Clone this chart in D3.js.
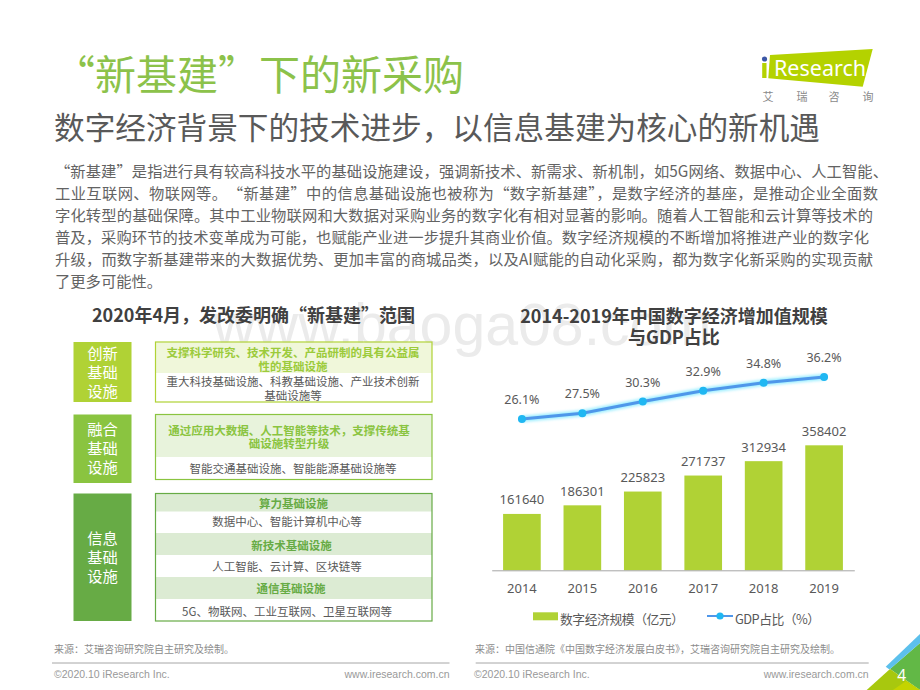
<!DOCTYPE html>
<html><head><meta charset="utf-8">
<script src="https://cdn.jsdelivr.net/npm/d3@7/dist/d3.min.js"></script>
<style>html,body{margin:0;padding:0;background:#fff}svg{display:block}
text{font-family:"Noto Sans CJK SC","Noto Sans",sans-serif}
.num{font-family:"Noto Sans","Noto Sans CJK SC",sans-serif}
.en{font-family:"Liberation Sans",Arial,sans-serif}
</style></head><body>
<svg id="c" width="920" height="690" viewBox="0 0 920 690"></svg>
<script>
const years = ["2014","2015","2016","2017","2018","2019"];
const scaleValues = [161640,186301,225823,271737,312934,358402];
const gdpShare = [26.1,27.5,30.3,32.9,34.8,36.2];
const legendLabels = ["数字经济规模（亿元）","GDP占比（%）"];
const bodyLines = [
 "“新基建”是指进行具有较高科技水平的基础设施建设，强调新技术、新需求、新机制，如5G网络、数据中心、人工智能、",
 "工业互联网、物联网等。　“新基建”中的信息基础设施也被称为“数字新基建”，是数字经济的基座，是推动企业全面数",
 "字化转型的基础保障。其中工业物联网和大数据对采购业务的数字化有相对显著的影响。随着人工智能和云计算等技术的",
 "普及，采购环节的技术变革成为可能，也赋能产业进一步提升其商业价值。数字经济规模的不断增加将推进产业的数字化",
 "升级，而数字新基建带来的大数据优势、更加丰富的商城品类，以及AI赋能的自动化采购，都为数字化新采购的实现贡献",
 "了更多可能性。"];
const bodyWidths = [833,823,818,814,818,null];
const categoryNames = [["创新","基础","设施"],["融合","基础","设施"],["信息","基础","设施"]];
const svg = d3.select("#c");
const T=(x,y,s,size,fill,o={})=>svg.append("text").attr("x",x).attr("y",y).attr("font-size",size).attr("fill",fill)
  .attr("text-anchor",o.a||"start").attr("font-weight",o.w||400).attr("class",o.c||null).text(s);

// watermark
T(213,345,"www.baoga08.com",59,"#ebebeb",{c:"en"});

// headings
T(54,90,"“新基建”下的新采购",41,"#8cc24a");
T(54,139,"数字经济背景下的技术进步，以信息基建为核心的新机遇",30.65,"#595959");

// logo
svg.append("polygon").attr("points","770,55 872.7,49 862.7,86.7 768.3,78.3").attr("fill","#b4d200");
svg.append("rect").attr("x",762.2).attr("y",63).attr("width",4.3).attr("height",15).attr("fill","#b4d200");
svg.append("circle").attr("cx",764.5).attr("cy",59).attr("r",2.6).attr("fill","#3b57a6");
T(774,76,"Research",21.5,"#fff",{c:"num"});
["艾","瑞","咨","询"].forEach((c,i)=>T([768,802,834,868][i],101,c,11,"#8a8a8a",{a:"middle"}));

// paragraph
bodyLines.forEach((l,i)=>{const t=T(55,177+i*22,l,15.3,"#636363"); if(bodyWidths[i]) t.attr("textLength",bodyWidths[i]);});

// left diagram
T(253.5,322,"2020年4月，发改委明确“新基建”范围",18,"#404040",{a:"middle",w:700});
const leftBoxes=[
 {y0:342,y1:402,fill:"#b0d235",stroke:"#b0d235",head:"#f0f7da",ink:"#9ccb3b",rows:[
   {y0:342.5,y1:373,h:1,t:["支撑科学研究、技术开发、产品研制的具有公益属","性的基础设施"],ty:[357,370.5],cx:293},
   {y0:373,y1:402,h:0,t:["重大科技基础设施、科教基础设施、产业技术创新","基础设施等"],ty:[385.5,400],cx:293}]},
 {y0:414.5,y1:483,fill:"#8ac440",stroke:"#8ac440",head:"#e8f3dc",ink:"#8ac440",rows:[
   {y0:414.5,y1:457,h:1,t:["通过应用大数据、人工智能等技术，支撑传统基","础设施转型升级"],ty:[434.5,447.5],cx:289},
   {y0:457,y1:479.5,h:0,t:["智能交通基础设施、智能能源基础设施等"],ty:[472.5],cx:293}]},
 {y0:493.5,y1:621,fill:"#67ab45",stroke:"#67ab45",head:"#dcebd3",ink:"#67ab45",rows:[
   {y0:493.5,y1:511.7,h:1,t:["算力基础设施"],ty:[507.5],cx:293.5},
   {y0:511.7,y1:533,h:0,t:["数据中心、智能计算机中心等"],ty:[526],cx:287},
   {y0:533,y1:555,h:1,t:["新技术基础设施"],ty:[550],cx:291.5},
   {y0:555,y1:577,h:0,t:["人工智能、云计算、区块链等"],ty:[571],cx:287},
   {y0:577,y1:599,h:1,t:["通信基础设施"],ty:[592.5],cx:291},
   {y0:599,y1:621,h:0,t:["5G、物联网、工业互联网、卫星互联网等"],ty:[615.5],cx:287}]}
];
leftBoxes.forEach((b,i)=>{
  svg.append("rect").attr("x",73.5).attr("y",b.y0).attr("width",58).attr("height",b.y1-b.y0).attr("fill",b.fill);
  const cy=(b.y0+b.y1)/2;
  categoryNames[i].forEach((s,j)=>T(102.5,cy+5.5+(j-1)*19,s,15.3,"#fff",{a:"middle"}));
  const rb=b.rows[b.rows.length-1].y1;
  b.rows.forEach(r=>{
    svg.append("rect").attr("x",155.5).attr("y",r.y0).attr("width",276.5).attr("height",r.y1-r.y0).attr("fill",r.h?b.head:"#fff");
    r.t.forEach((s,k)=>T(r.cx,r.ty[k],s,11.5,r.h?b.ink:"#595959",{a:"middle",w:r.h?700:400}));
  });
  svg.append("rect").attr("x",155.5).attr("y",b.y0).attr("width",276.5).attr("height",rb-b.y0).attr("fill","none").attr("stroke",b.stroke).attr("stroke-width",1.2);
});

// right chart
T(674,323,"2014-2019年中国数字经济增加值规模",18,"#404040",{a:"middle",w:700});
T(674,344,"与GDP占比",18,"#404040",{a:"middle",w:700});
const x=d3.scaleBand().domain(years).range([491.7,854.3]).paddingInner(0.377).paddingOuter(0.1885);
const yBar=d3.scaleLinear().domain([0,400000]).range([570.3,430.8]);
const yLine=d3.scaleLinear().domain([0,40]).range([527.6,361.2]);
const defs=svg.append("defs");
defs.append("filter").attr("id","glow").attr("x","-10%").attr("y","-50%").attr("width","120%").attr("height","200%")
  .append("feGaussianBlur").attr("stdDeviation",1.6);
svg.append("g").selectAll("rect").data(scaleValues).join("rect")
  .attr("x",(d,i)=>x(years[i])).attr("width",x.bandwidth()).attr("y",d=>yBar(d)).attr("height",d=>yBar(0)-yBar(d)).attr("fill","#b0d235");
svg.append("g").selectAll("text").data(scaleValues).join("text").attr("class","num")
  .attr("x",(d,i)=>x(years[i])+x.bandwidth()/2).attr("y",d=>yBar(d)-9.5).attr("text-anchor","middle").attr("font-size",13).attr("fill","#595959").text(d=>d);
const axis=svg.append("g").attr("transform","translate(0,570.3)").call(d3.axisBottom(x).tickSize(0).tickPadding(13));
axis.select(".domain").attr("stroke","#a6a6a6").attr("stroke-width",1);
axis.selectAll("text").attr("class","num").attr("font-size",13).attr("fill","#595959").style("font-family",'"Noto Sans"');
const line=d3.line().x((d,i)=>x(years[i])+x.bandwidth()/2).y(d=>yLine(d));
svg.append("path").attr("d",line(gdpShare)).attr("fill","none").attr("stroke","#7fe9ff").attr("stroke-width",6).attr("filter","url(#glow)").attr("opacity",.8);
svg.append("path").attr("d",line(gdpShare)).attr("fill","none").attr("stroke","#4f97ea").attr("stroke-width",3);
svg.append("g").selectAll("circle").data(gdpShare).join("circle")
  .attr("cx",(d,i)=>x(years[i])+x.bandwidth()/2).attr("cy",d=>yLine(d)).attr("r",4).attr("fill","#1fb7f2");
svg.append("g").selectAll("text").data(gdpShare).join("text").attr("class","num")
  .attr("x",(d,i)=>x(years[i])+x.bandwidth()/2).attr("y",d=>yLine(d)-15).attr("text-anchor","middle").attr("font-size",12.5).attr("fill","#595959").text(d=>d.toFixed(1)+"%");

// legend
svg.append("rect").attr("x",533).attr("y",612.3).attr("width",25).attr("height",8).attr("fill","#b0d235");
T(560,623.5,legendLabels[0],12.8,"#595959").attr("textLength",124);
svg.append("line").attr("x1",707).attr("x2",733).attr("y1",616).attr("y2",616).attr("stroke","#7fe9ff").attr("stroke-width",5).attr("filter","url(#glow)").attr("opacity",.8);
svg.append("line").attr("x1",707).attr("x2",733).attr("y1",616).attr("y2",616).attr("stroke","#4f97ea").attr("stroke-width",2);
svg.append("circle").attr("cx",720).attr("cy",616).attr("r",3.6).attr("fill","#1fb7f2");
T(735,623.5,legendLabels[1],12.8,"#595959").attr("textLength",85);

// sources & footer
T(54,652.5,"来源：艾瑞咨询研究院自主研究及绘制。",10,"#8c8c8c");
T(475,652.5,"来源：中国信通院《中国数字经济发展白皮书》，艾瑞咨询研究院自主研究及绘制。",10,"#8c8c8c");
[[52,449.5],[475.7,868.7]].forEach(p=>svg.append("line").attr("x1",p[0]).attr("x2",p[1]).attr("y1",663).attr("y2",663).attr("stroke","#a6a6a6").attr("stroke-width",1));
T(54,678,"©2020.10 iResearch Inc.",10.5,"#999",{c:"en"});
T(474,678,"©2020.10 iResearch Inc.",10.5,"#999",{c:"en"});
T(449.5,678,"www.iresearch.com.cn",10.5,"#999",{c:"en",a:"end"});
T(868.7,678,"www.iresearch.com.cn",10.5,"#999",{c:"en",a:"end"});

// corner
svg.append("polygon").attr("points","890,669 920,643 920,690").attr("fill","#62b846");
svg.append("polygon").attr("points","866.7,690 890,669 920,690").attr("fill","#a8c80e");
svg.append("polygon").attr("points","893,690 906,681 920,690").attr("fill","#c4d400");
svg.append("polygon").attr("points","885.7,666.7 889.5,669.5 920,643 920,634").attr("fill","#5cc0ec");
T(901.7,680.5,"4",15.5,"#fff",{c:"num",a:"middle"});
</script></body></html>
